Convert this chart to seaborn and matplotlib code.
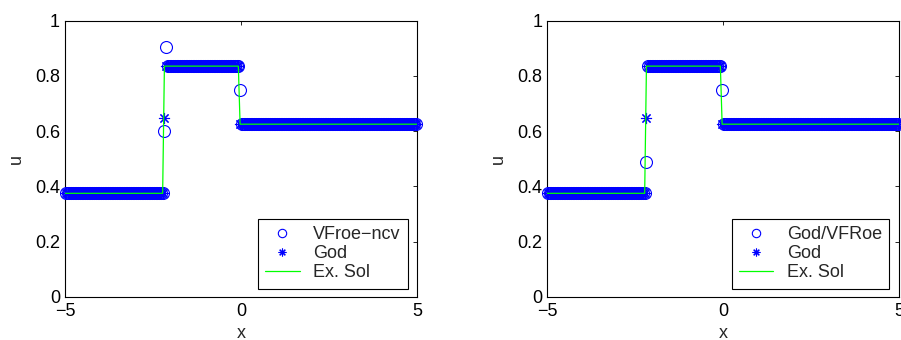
import numpy as np
import matplotlib
matplotlib.use('Agg')
import matplotlib.pyplot as plt
import seaborn as sns

sns.set_style('white')
plt.rcParams['font.family'] = ['Liberation Sans', 'DejaVu Sans']

# --- Data ---
# 200 cells of width 0.05 on [-5, 5]
n_cells = 200
x_cells = np.linspace(-4.975, 4.975, n_cells)

# run-length encoded cell values: (number of cells, value)
vfroe_runs = [(56, 0.375), (1, 0.60), (1, 0.905), (41, 0.835), (1, 0.75), (100, 0.625)]
god_runs = [(56, 0.375), (1, 0.646), (42, 0.835), (101, 0.625)]
godvfroe_runs = [(56, 0.375), (1, 0.49), (42, 0.835), (1, 0.75), (100, 0.625)]

# exact solution polyline
x_exact = [-5.0, -2.225, -2.175, -0.075, -0.025, 5.0]
u_exact = [0.375, 0.375, 0.835, 0.835, 0.625, 0.625]

x_ticks = [-5, 0, 5]
y_ticks = [0, 0.2, 0.4, 0.6, 0.8, 1]


def expand(runs):
    counts = [r[0] for r in runs]
    vals = [r[1] for r in runs]
    return np.repeat(vals, counts)


def draw_panel(ax, circ_runs, circ_label, legend_x):
    u_circ = expand(circ_runs)
    u_god = expand(god_runs)
    sns.lineplot(x=x_cells, y=u_circ, ax=ax, linestyle='', marker='o', ms=8.6,
                 mfc='none', mec='#0000ff', mew=0.8, color='#0000ff',
                 clip_on=False, label=circ_label, zorder=3)
    sns.lineplot(x=x_cells, y=u_god, ax=ax, linestyle='', marker=(8, 2, 0), ms=8,
                 mec='#0000ff', mew=0.8, color='#0000ff',
                 clip_on=False, label='God', zorder=3)
    sns.lineplot(x=x_exact, y=u_exact, ax=ax, color='#00ff00', lw=0.9,
                 label='Ex. Sol', zorder=4, sort=False)

    ax.set_xlim(-5, 5)
    ax.set_ylim(0, 1)
    ax.set_xticks(x_ticks)
    ax.set_xticklabels(['\u22125', '0', '5'])
    ax.set_yticks(y_ticks)
    ax.set_yticklabels(['0', '0.2', '0.4', '0.6', '0.8', '1'])
    ax.tick_params(direction='in', top=True, right=True, length=3, width=0.6,
                   labelsize=13, colors='black')
    ax.tick_params(axis='y', pad=3.5)
    ax.tick_params(axis='x', pad=4)
    for s in ax.spines.values():
        s.set_visible(True)
        s.set_color('black')
        s.set_linewidth(0.8)
    ax.set_xlabel('x', fontsize=13, labelpad=4)
    ax.set_ylabel('u', fontsize=13, labelpad=7)

    leg = ax.legend(loc='lower right', bbox_to_anchor=(legend_x, 0.03),
                    fontsize=13, frameon=True, fancybox=False, framealpha=1,
                    edgecolor='black', borderpad=0.4, labelspacing=0.12,
                    handlelength=1.9, handletextpad=0.75, markerscale=0.7,
                    borderaxespad=0)
    leg.get_frame().set_linewidth(0.8)


fig = plt.figure(figsize=(9.01, 3.40), dpi=100)
ax1 = fig.add_axes([0.0721, 0.1265, 0.3907, 0.8132])
ax2 = fig.add_axes([0.6071, 0.1265, 0.3907, 0.8132])

draw_panel(ax1, vfroe_runs, 'VFroe\u2212ncv', 0.974)
draw_panel(ax2, godvfroe_runs, 'God/VFRoe', 0.972)

fig.savefig('out.png', dpi=100)
